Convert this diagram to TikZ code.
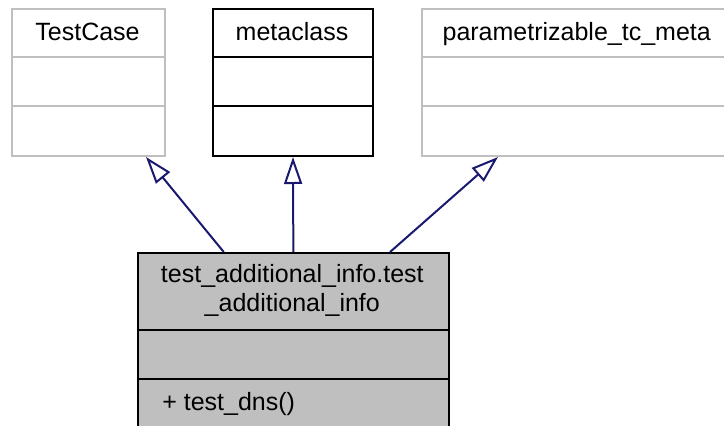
\documentclass[tikz,border=0pt]{standalone}
\usepackage{fontspec}
\setmainfont{Liberation Sans}
\usetikzlibrary{arrows.meta}
\definecolor{umlgray}{HTML}{BFBFBF}
\definecolor{umlnavy}{HTML}{191970}
\begin{document}
\begin{tikzpicture}[x=1pt, y=-1pt, line width=2pt, font=\fontsize{25}{28.3}\selectfont,
  classbox/.style={draw, inner sep=0pt, anchor=north west},
  inherit/.style={draw=umlnavy, -{Triangle[open, length=27pt, width=18pt]}}]
\useasboundingbox (0,0) rectangle (724,426);

% base classes
\node[classbox, draw=umlgray, minimum width=153pt, minimum height=147pt] (testcase) at (11,8) {};
\node[classbox, draw=black, minimum width=160pt, minimum height=147pt] (metaclass) at (212,8) {};
\node[classbox, draw=umlgray, minimum width=312pt, minimum height=147pt] (parammeta) at (420.7,8) {};
\foreach \n/\c in {testcase/umlgray, metaclass/black, parammeta/umlgray} {
  \draw[\c] (\n.north west) ++(0,49) -- (\n.north east |- 0,57);
  \draw[\c] (\n.north west) ++(0,98) -- (\n.north east |- 0,106);
}
\node[anchor=base] (testcasename) at (87.5,40) {TestCase};
\node[anchor=base] (metaclassname) at (292,40) {metaclass};
\node[anchor=base] (parammetaname) at (576.7,40) {parametrizable\_tc\_meta};

% derived class
\node[classbox, draw=black, fill=umlgray, minimum width=311.3pt, minimum height=176pt] (child) at (136.7,252) {};
\draw (child.north west) ++(0,78) -- (child.north east |- 0,330);
\draw (child.north west) ++(0,127) -- (child.north east |- 0,379);
\node[anchor=base] (childname1) at (292.3,282.7) {test\_additional\_info.test};
\node[anchor=base] (childname2) at (292.3,311) {\_additional\_info};
\node[anchor=base west] (childops) at (158,410) {+ test\_dns()};

% inheritance
\draw[inherit] ([xshift=-69.6pt]child.north) -- ([xshift=57.5pt]testcase.south);
\draw[inherit] (child.north) -- (metaclass.south);
\draw[inherit] ([xshift=96.7pt]child.north) -- ([xshift=-79.7pt]parammeta.south);
\end{tikzpicture}
\end{document}
